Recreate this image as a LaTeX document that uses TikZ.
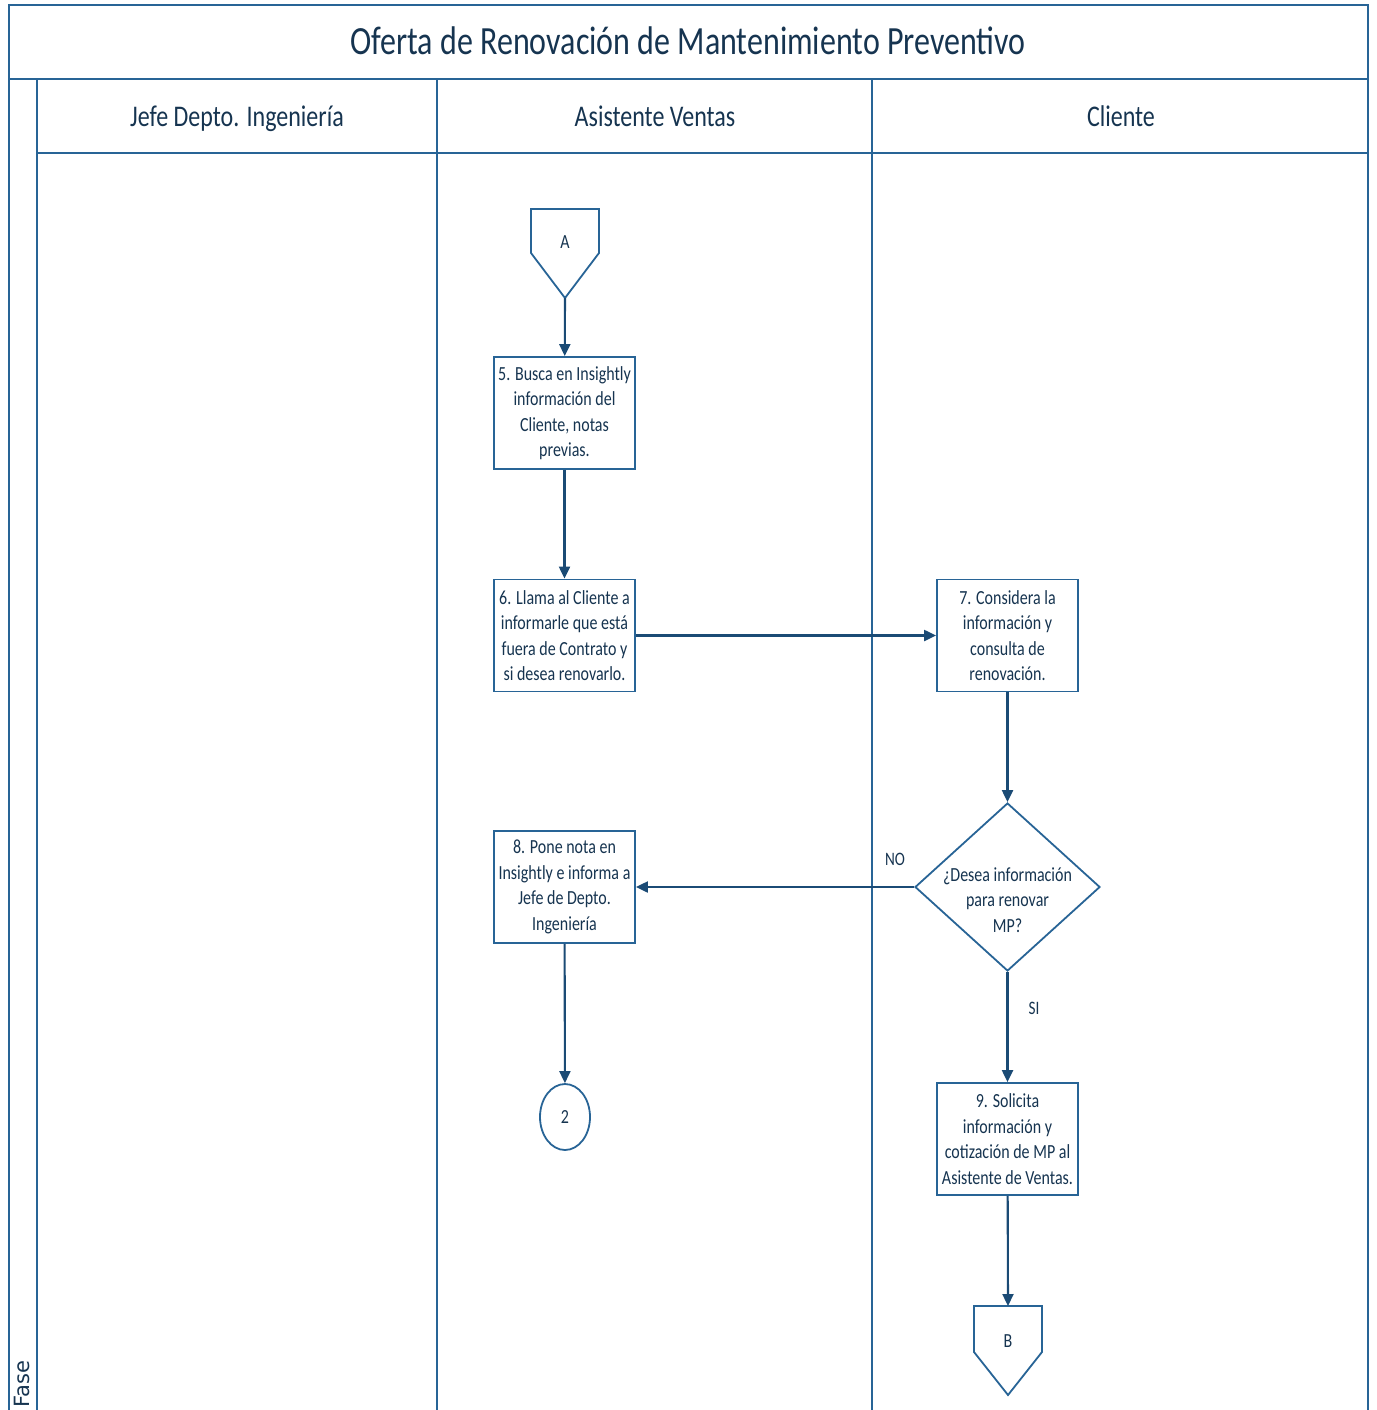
\documentclass[tikz,border=0pt]{standalone}
\usepackage{fontspec}
\setmainfont{Carlito}[FakeStretch=0.8]
\newfontfamily\fasefont{DejaVu Sans}
\usetikzlibrary{arrows.meta,shapes.geometric}
\definecolor{lanecol}{RGB}{40,100,150}
\definecolor{flowcol}{RGB}{27,75,117}
\definecolor{txtcol}{RGB}{22,52,80}

\begin{document}
\begin{tikzpicture}[x=1pt, y=-1pt,
		lane/.style={draw=lanecol, line width=1.9pt},
		shapeline/.style={draw=lanecol, line width=1.8pt},
		stepbox/.style={shapeline, fill=white, minimum width=141pt, minimum height=112pt, inner sep=1pt, align=center, text=txtcol, font=\fontsize{20}{25.5}\selectfont},
		decision/.style={shapeline, diamond, fill=white, minimum width=185pt, minimum height=168pt, inner sep=0pt},
		steptext/.style={align=center, text=txtcol, font=\fontsize{20}{25.5}\selectfont},
		pagelabel/.style={text=txtcol, font=\fontsize{20}{20}\selectfont},
		onpage/.style={shapeline, ellipse, minimum width=50pt, minimum height=66pt, inner sep=0pt, text=txtcol, font=\fontsize{20}{20}\selectfont},
		lanetitle/.style={anchor=base, text=txtcol, font=\fontsize{30}{32}\selectfont},
		flow/.style={draw=flowcol, line width=2.1pt, -{Triangle[length=12pt,width=11pt]}},
		answer/.style={text=txtcol, font=\fontsize{19}{20}\selectfont}]
		\useasboundingbox (0,0) rectangle (1376,1410);

		% pool frame and lanes
		\draw[lane] (9,1412) -- (9,5) -- (1368,5) -- (1368,1412);
		\draw[lane] (9,79) -- (1368,79);
		\draw[lane] (37,79) -- (37,1412);
		\draw[lane] (37,153) -- (1368,153);
		\draw[lane] (437,79) -- (437,1412);
		\draw[lane] (872,79) -- (872,1412);

		\node[lanetitle, font=\fontsize{40}{42}\selectfont] (titulo) at (688,55) {Oferta de Renovación de Mantenimiento Preventivo};
		\node[lanetitle] (jefe) at (237,127) {Jefe Depto. Ingeniería};
		\node[lanetitle] (asistente) at (655,127) {Asistente Ventas};
		\node[lanetitle] (cliente) at (1121,127) {Cliente};
		\node[text=txtcol, font=\fasefont\fontsize{21}{24}\selectfont, rotate=90, anchor=west, inner sep=0pt] (fase) at (22,1408) {Fase};

		% off-page connector A
		\draw[shapeline] (531,209) -- (599,209) -- (599,253) -- (565,298) -- (531,253) -- cycle;
		\node[pagelabel] (A) at (565,242) {A};
		\coordinate (Apunta) at (565,298);

		\node[stepbox] (paso5) at (564.5,413) {5. Busca en Insightly\\información del\\Cliente, notas\\previas.};
		\node[stepbox] (paso6) at (564.5,635.5) {6. Llama al Cliente a\\informarle que está\\fuera de Contrato y\\si desea renovarlo.};
		\node[stepbox] (paso7) at (1007.5,635.5) {7. Considera la\\información y\\consulta de\\renovación.};
		\node[decision] (desea) at (1007.5,887) {};
		\node[steptext] (deseatxt) at (1007.5,900) {¿Desea información\\para renovar\\MP?};
		\node[stepbox] (paso8) at (564.5,887) {8. Pone nota en\\Insightly e informa a\\Jefe de Depto.\\Ingeniería};
		\node[onpage] (dos) at (565,1117) {2};
		\node[stepbox] (paso9) at (1007.5,1139) {9. Solicita\\información y\\cotización de MP al\\Asistente de Ventas.};

		% off-page connector B
		\draw[shapeline] (974,1306) -- (1042,1306) -- (1042,1352) -- (1008,1395) -- (974,1352) -- cycle;
		\node[pagelabel] (B) at (1008,1341) {B};
		\coordinate (Bboca) at (1008,1306);

		\draw[flow] (Apunta) -- (paso5);
		\draw[flow] (paso5) -- (paso6);
		\draw[flow] (paso6) -- (paso7);
		\draw[flow] (paso7) -- (desea);
		\draw[flow] (desea.west) -- (paso8.east);
		\draw[flow] (desea.south) -- (paso9.north);
		\draw[flow] (paso8) -- (dos);
		\draw[flow] (paso9) -- (Bboca);

		\node[answer] (no) at (895,859) {NO};
		\node[answer] (si) at (1034,1008) {SI};
	\end{tikzpicture}
\end{document}
